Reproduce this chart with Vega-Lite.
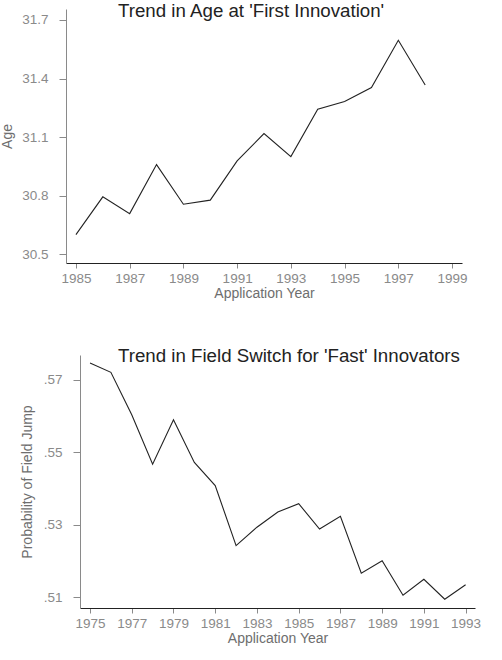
{
  "$schema": "https://vega.github.io/schema/vega-lite/v6.json",
  "padding": {"left": 0, "top": 2, "right": 0, "bottom": 0},
  "background": "white",
  "config": {
    "font": "Liberation Sans",
    "view": {"stroke": null},
    "axis": {
      "grid": false,
      "labelColor": "#8a8a8a",
      "labelFontSize": 13.5,
      "titleColor": "#6e6e6e",
      "titleFontSize": 14,
      "titleFontWeight": "normal",
      "tickColor": "#8a8a8a",
      "domainColor": "#8a8a8a"
    },
    "axisX": {"domainColor": "#222", "tickSize": 5, "labelPadding": 3, "titlePadding": 2},
    "axisY": {"tickSize": 7, "labelPadding": 11},
    "title": {"fontSize": 18.7, "fontWeight": "normal", "color": "#222", "anchor": "start", "frame": "group", "baseline": "alphabetic"}
  },
  "spacing": 46,
  "vconcat": [
    {
      "width": 396,
      "height": 254,
      "title": {"text": "Trend in Age at 'First Innovation'", "dx": 52, "offset": -12},
      "data": {
        "values": [
          {"year": 1985, "age": 30.6},
          {"year": 1986, "age": 30.794},
          {"year": 1987, "age": 30.708},
          {"year": 1988, "age": 30.959},
          {"year": 1989, "age": 30.756},
          {"year": 1990, "age": 30.777},
          {"year": 1991, "age": 30.978},
          {"year": 1992, "age": 31.118},
          {"year": 1993, "age": 31.0},
          {"year": 1994, "age": 31.243},
          {"year": 1995, "age": 31.282},
          {"year": 1996, "age": 31.354},
          {"year": 1997, "age": 31.596},
          {"year": 1998, "age": 31.367}
        ]
      },
      "mark": {"type": "line", "color": "#222", "strokeWidth": 1.1},
      "encoding": {
        "x": {
          "field": "year", "type": "quantitative",
          "scale": {"domain": [1984.63, 1999.37], "nice": false, "zero": false},
          "axis": {"title": "Application Year", "values": [1985, 1987, 1989, 1991, 1993, 1995, 1997, 1999], "format": "d"}
        },
        "y": {
          "field": "age", "type": "quantitative",
          "scale": {"domain": [30.455, 31.756], "nice": false, "zero": false},
          "axis": {"title": "Age", "values": [30.5, 30.8, 31.1, 31.4, 31.7], "format": ".1f", "titlePadding": 7}
        }
      }
    },
    {
      "width": 409,
      "height": 253,
      "title": {"text": "Trend in Field Switch for 'Fast' Innovators", "dx": 52, "offset": -11},
      "data": {
        "values": [
          {"year": 1975, "prob": 0.5747},
          {"year": 1976, "prob": 0.5721},
          {"year": 1977, "prob": 0.5604},
          {"year": 1978, "prob": 0.5467},
          {"year": 1979, "prob": 0.559},
          {"year": 1980, "prob": 0.5472},
          {"year": 1981, "prob": 0.5408},
          {"year": 1982, "prob": 0.5242},
          {"year": 1983, "prob": 0.5293},
          {"year": 1984, "prob": 0.5335},
          {"year": 1985, "prob": 0.5358},
          {"year": 1986, "prob": 0.5288},
          {"year": 1987, "prob": 0.5323},
          {"year": 1988, "prob": 0.5166},
          {"year": 1989, "prob": 0.52},
          {"year": 1990, "prob": 0.5105},
          {"year": 1991, "prob": 0.5149},
          {"year": 1992, "prob": 0.5094},
          {"year": 1993, "prob": 0.5134}
        ]
      },
      "mark": {"type": "line", "color": "#222", "strokeWidth": 1.1},
      "encoding": {
        "x": {
          "field": "year", "type": "quantitative",
          "scale": {"domain": [1974.52, 1993.45], "range": [14, 409], "nice": false, "zero": false},
          "axis": {"title": "Application Year", "values": [1975, 1977, 1979, 1981, 1983, 1985, 1987, 1989, 1991, 1993], "format": "d"}
        },
        "y": {
          "field": "prob", "type": "quantitative",
          "scale": {"domain": [0.50696, 0.5769], "nice": false, "zero": false},
          "axis": {
            "title": "Probability of Field Jump",
            "values": [0.51, 0.53, 0.55, 0.57],
            "labelExpr": "replace(format(datum.value, '.2f'), '0.', '.')",
            "offset": -14,
            "titlePadding": 9
          }
        }
      }
    }
  ]
}
